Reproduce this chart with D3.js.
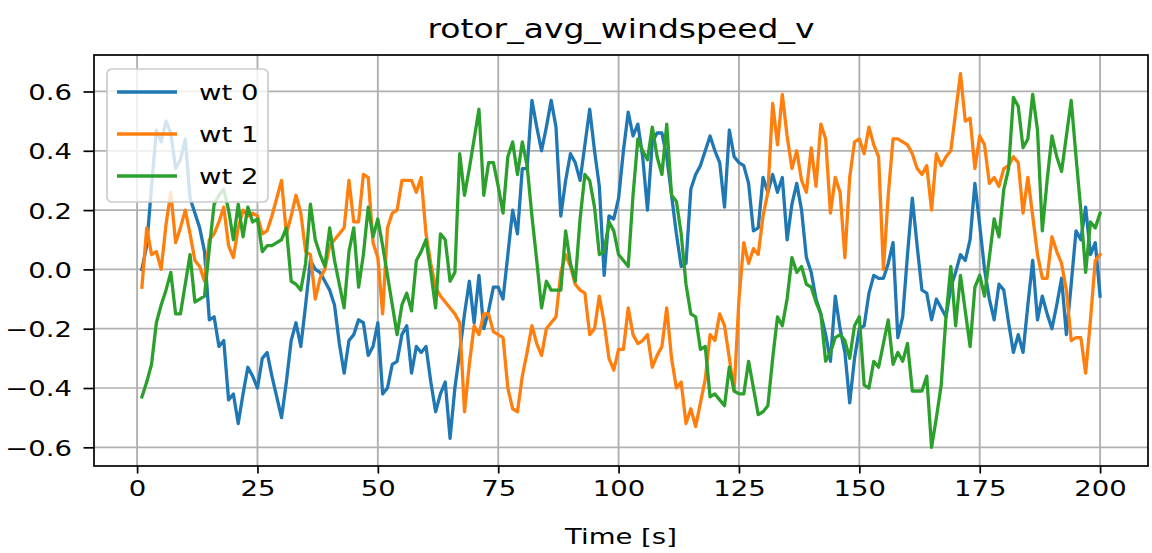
<!DOCTYPE html>
<html><head><meta charset="utf-8">
<script src="https://cdn.jsdelivr.net/npm/d3@7"></script>
<style>
html,body{margin:0;padding:0;background:#fff;}
text{font-family:"DejaVu Sans",sans-serif;fill:#000;}
</style></head>
<body><div id="chart"></div>
<script>
const title = "rotor_avg_windspeed_v";
const xLabel = "Time [s]";
const seriesNames = ["wt 0", "wt 1", "wt 2"];
const colors = ["#1f77b4", "#ff7f0e", "#2ca02c"];
const xTicks = [0, 25, 50, 75, 100, 125, 150, 175, 200];
const yTicks = [-0.6, -0.4, -0.2, 0.0, 0.2, 0.4, 0.6];
const time = d3.range(1, 201);
const wt0 = [
 0.00, 0.08, 0.28, 0.47, 0.43, 0.50, 0.46, 0.34, 0.37, 0.44,
 0.24, 0.19, 0.14, 0.06,-0.17,-0.16,-0.26,-0.24,-0.44,-0.42,
-0.52,-0.42,-0.33,-0.36,-0.40,-0.30,-0.28,-0.36,-0.43,-0.50,
-0.38,-0.24,-0.18,-0.26,-0.12, 0.03, 0.00,-0.01,-0.04,-0.07,
-0.12,-0.25,-0.35,-0.24,-0.22,-0.17,-0.18,-0.29,-0.26,-0.18,
-0.42,-0.40,-0.32,-0.31,-0.22,-0.19,-0.35,-0.26,-0.28,-0.26,
-0.38,-0.48,-0.42,-0.38,-0.57,-0.40,-0.28,-0.15,-0.04,-0.18,
-0.02,-0.20,-0.14,-0.06,-0.06,-0.10, 0.05, 0.20, 0.12, 0.34,
 0.34, 0.57, 0.48, 0.40, 0.48, 0.57, 0.48, 0.18, 0.30, 0.39,
 0.36, 0.30, 0.42, 0.54, 0.40, 0.28,-0.02, 0.18, 0.17, 0.24,
 0.40, 0.53, 0.45, 0.49, 0.38, 0.20, 0.43, 0.46, 0.46, 0.38,
 0.25, 0.12, 0.01, 0.02, 0.27, 0.32, 0.35, 0.40, 0.45, 0.40,
 0.36, 0.21, 0.47, 0.38, 0.36, 0.35, 0.29, 0.13, 0.14, 0.31,
 0.26, 0.32, 0.26, 0.31, 0.10, 0.22, 0.29, 0.20, 0.04,-0.01,
-0.10,-0.15,-0.22,-0.31,-0.09,-0.20,-0.28,-0.45,-0.30,-0.20,
-0.19,-0.08,-0.02,-0.03,-0.03, 0.02, 0.09,-0.23,-0.16, 0.05,
 0.24, 0.08,-0.07,-0.08,-0.17,-0.10,-0.13,-0.16,-0.06,-0.01,
 0.05, 0.03, 0.10, 0.29, 0.15, 0.00,-0.10,-0.17,-0.05,-0.07,
-0.18,-0.28,-0.22,-0.28,-0.12, 0.03,-0.17,-0.09,-0.15,-0.20,
-0.12,-0.03,-0.22,-0.05, 0.13, 0.10, 0.21, 0.05, 0.09,-0.09];
const wt1 = [
-0.06, 0.14, 0.05, 0.06, 0.00, 0.15, 0.26, 0.09, 0.14, 0.20,
 0.12, 0.03, 0.01,-0.04, 0.10, 0.12, 0.16, 0.21, 0.08, 0.04,
 0.14, 0.20, 0.18, 0.19, 0.18, 0.12, 0.13, 0.18, 0.24, 0.30,
 0.12, 0.18, 0.25, 0.19, 0.06, 0.05,-0.10,-0.03, 0.00, 0.08,
 0.10, 0.12, 0.14, 0.30, 0.16, 0.16, 0.32, 0.31, 0.09, 0.04,
-0.15, 0.14, 0.19, 0.20, 0.30, 0.30, 0.30, 0.26, 0.31, 0.12,
 0.02,-0.06,-0.09,-0.11,-0.13,-0.15,-0.18,-0.48,-0.32,-0.19,
-0.22,-0.15,-0.15,-0.21,-0.22,-0.23,-0.40,-0.47,-0.48,-0.36,
-0.28,-0.19,-0.25,-0.29,-0.20,-0.18,-0.16,-0.01, 0.05, 0.01,
-0.05,-0.07,-0.08,-0.22,-0.20,-0.09,-0.18,-0.30,-0.34,-0.27,
-0.27,-0.13,-0.22,-0.25,-0.24,-0.22,-0.33,-0.29,-0.26,-0.13,
-0.30,-0.40,-0.38,-0.52,-0.47,-0.53,-0.45,-0.37,-0.22,-0.24,
-0.15,-0.19,-0.30,-0.41,-0.10, 0.09, 0.02, 0.07, 0.05, 0.18,
 0.26, 0.56, 0.42, 0.59, 0.45, 0.34, 0.40, 0.30, 0.26, 0.41,
 0.28, 0.49, 0.44, 0.19, 0.31, 0.26, 0.04, 0.31, 0.43, 0.44,
 0.39, 0.48, 0.42, 0.38, 0.00, 0.25, 0.44, 0.44, 0.43, 0.42,
 0.39, 0.34, 0.32, 0.35, 0.20, 0.39, 0.35, 0.38, 0.40, 0.53,
 0.66, 0.50, 0.51, 0.34, 0.45, 0.42, 0.29, 0.31, 0.28, 0.34,
 0.35, 0.38, 0.36, 0.19, 0.31, 0.18, 0.05,-0.03,-0.03, 0.11,
 0.06, 0.02,-0.07,-0.24,-0.23,-0.23,-0.35,-0.17, 0.03, 0.05];
const wt2 = [
-0.43,-0.38,-0.32,-0.18,-0.12,-0.07,-0.01,-0.15,-0.15,-0.05,
 0.05,-0.11,-0.10,-0.09, 0.07, 0.22, 0.25, 0.27, 0.20, 0.10,
 0.22, 0.11, 0.21, 0.16, 0.17, 0.06, 0.08, 0.08, 0.09, 0.10,
 0.14,-0.04,-0.05,-0.07, 0.02, 0.22, 0.10, 0.05, 0.01, 0.14,
 0.03,-0.05,-0.13, 0.06, 0.14,-0.06, 0.05, 0.21, 0.11, 0.17,
 0.08,-0.02,-0.12,-0.22,-0.12,-0.08,-0.14, 0.03, 0.06, 0.10,
-0.01,-0.13, 0.12, 0.10,-0.04,-0.01, 0.39, 0.25, 0.34, 0.44,
 0.54, 0.25, 0.36, 0.36, 0.28, 0.19, 0.38, 0.43, 0.32, 0.43,
 0.35, 0.18, 0.03,-0.13,-0.04,-0.07,-0.07,-0.07, 0.13, 0.02,
-0.04, 0.17, 0.32, 0.30, 0.21, 0.05, 0.06, 0.16, 0.13, 0.05,
 0.03, 0.01, 0.25, 0.44, 0.40, 0.37, 0.48, 0.38, 0.32, 0.49,
 0.25, 0.23, 0.12,-0.05,-0.15,-0.16,-0.27,-0.26,-0.43,-0.42,
-0.44,-0.46,-0.33,-0.41,-0.42,-0.42,-0.31,-0.40,-0.49,-0.48,
-0.46,-0.30,-0.16,-0.19,-0.10, 0.04,-0.01, 0.01,-0.05,-0.06,
-0.11,-0.15,-0.31,-0.28,-0.23,-0.22,-0.24,-0.30,-0.19,-0.16,
-0.39,-0.40,-0.31,-0.33,-0.25,-0.17,-0.32,-0.28,-0.31,-0.25,
-0.41,-0.41,-0.41,-0.36,-0.60,-0.50,-0.39,-0.16, 0.01,-0.19,
-0.02,-0.14,-0.26,-0.06,-0.02,-0.09, 0.04, 0.17, 0.11, 0.27,
 0.34, 0.58, 0.55, 0.41, 0.44, 0.59, 0.47, 0.13, 0.30, 0.45,
 0.38, 0.33, 0.45, 0.57, 0.38, 0.20,-0.01, 0.16, 0.14, 0.19];
const seriesValues = [wt0, wt1, wt2];

const W = 1152, H = 553;
const m = {left: 94, right: 1148, top: 55, bottom: 466};
const SX = 1.25; // horizontal glyph stretch seen in the reference
const FS = 22;

const svg = d3.select("#chart").append("svg").attr("width", W).attr("height", H)
  .style("display","block").style("background","#fff");

function padDomain(lo, hi) { const p = (hi - lo) * 0.05; return [lo - p, hi + p]; }
const xExt = d3.extent(time);
const allV = seriesValues.flat();
const x = d3.scaleLinear().domain(padDomain(xExt[0], xExt[1])).range([m.left, m.right]);
const y = d3.scaleLinear().domain(padDomain(d3.min(allV), d3.max(allV))).range([m.bottom, m.top]);

// grid
const grid = svg.append("g");
grid.selectAll("line.gx").data(xTicks).join("line")
  .attr("x1", d => x(d)).attr("x2", d => x(d)).attr("y1", m.top).attr("y2", m.bottom)
  .attr("stroke", "#b0b0b0").attr("stroke-width", 1.9);
grid.selectAll("line.gy").data(yTicks).join("line")
  .attr("x1", m.left).attr("x2", m.right).attr("y1", d => y(d)).attr("y2", d => y(d))
  .attr("stroke", "#b0b0b0").attr("stroke-width", 1.7);

// lines
svg.append("clipPath").attr("id", "clip").append("rect")
  .attr("x", m.left).attr("y", m.top).attr("width", m.right - m.left).attr("height", m.bottom - m.top);
const lineGen = d3.line().x((d, i) => x(time[i])).y(d => y(d));
svg.append("g").attr("clip-path", "url(#clip)").selectAll("path").data(seriesValues).join("path")
  .attr("d", d => lineGen(d)).attr("fill", "none")
  .attr("stroke", (d, i) => colors[i]).attr("stroke-width", 3.3)
  .attr("stroke-linejoin", "round").attr("stroke-linecap", "square");

// axes
const xAxis = svg.append("g").attr("transform", `translate(0,${m.bottom})`)
  .call(d3.axisBottom(x).tickValues(xTicks).tickFormat(d3.format("d")).tickSize(7.5).tickPadding(6));
const yAxis = svg.append("g").attr("transform", `translate(${m.left},0)`)
  .call(d3.axisLeft(y).tickValues(yTicks).tickFormat(d3.format(".1f")).tickSize(10.5).tickPadding(10));
[xAxis, yAxis].forEach(a => {
  a.select(".domain").remove();
  a.selectAll(".tick line").attr("stroke", "#000").attr("stroke-width", 1.7);
  a.selectAll(".tick text").attr("font-size", FS).attr("font-family", "DejaVu Sans").attr("fill", "#000");
});
xAxis.selectAll(".tick text").attr("transform", `scale(${SX},1)`).attr("dy", "0.74em");
yAxis.selectAll(".tick text").attr("x", -22 / SX).attr("transform", `scale(${SX},1)`).attr("dy", "0.36em")
  .text(d => d3.format(".1f")(d).replace("−", "\u2212"));

// frame
svg.append("rect").attr("x", m.left).attr("y", m.top).attr("width", m.right - m.left)
  .attr("height", m.bottom - m.top).attr("fill", "none").attr("stroke", "#000").attr("stroke-width", 1.7);

// title & label
function stretchedText(g, tx, ty, str, size) {
  return g.append("text").attr("transform", `translate(${tx},${ty}) scale(${SX},1)`)
    .attr("text-anchor", "middle").attr("font-size", size).text(str);
}
stretchedText(svg, (m.left + m.right) / 2, 38, title, FS * 1.2);
stretchedText(svg, (m.left + m.right) / 2, 544, xLabel, FS);

// legend
const lg = svg.append("g");
lg.append("rect").attr("x", 107).attr("y", 69).attr("width", 161).attr("height", 133)
  .attr("rx", 5).attr("fill", "#fff").attr("fill-opacity", 0.8)
  .attr("stroke", "#cccccc").attr("stroke-width", 1.7);
seriesNames.forEach((name, i) => {
  const ly = 92 + i * 42;
  lg.append("line").attr("x1", 117).attr("x2", 177).attr("y1", ly).attr("y2", ly)
    .attr("stroke", colors[i]).attr("stroke-width", 3.3);
  lg.append("text").attr("transform", `translate(199,${ly}) scale(${SX},1)`)
    .attr("dy", "0.36em").attr("font-size", FS).text(name);
});
</script></body></html>
